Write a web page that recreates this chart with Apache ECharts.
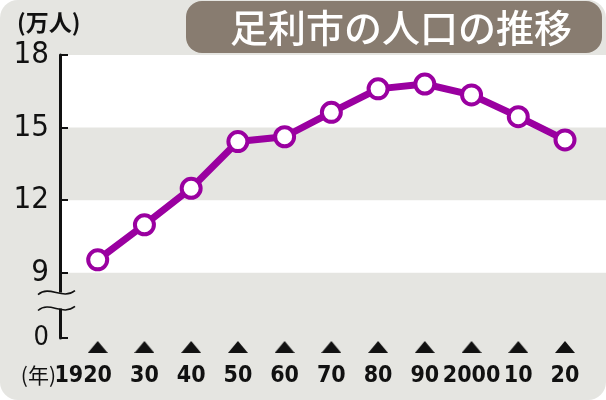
<!DOCTYPE html>
<html>
<head>
<meta charset="utf-8">
<script src="https://cdn.jsdelivr.net/npm/echarts@6/dist/echarts.min.js"></script>
<style>
  html, body { margin: 0; padding: 0; background: #ffffff; }
  #chart { width: 606px; height: 400px; background: #e5e5e1; border-radius: 18px; }
</style>
</head>
<body>
<div id="chart"></div>
<script>
// ---- data ----
const years = ['1920', '1930', '1940', '1950', '1960', '1970', '1980', '1990', '2000', '2010', '2020'];
const population = [9.53, 10.98, 12.49, 14.42, 14.62, 15.63, 16.60, 16.80, 16.35, 15.45, 14.49]; // 万人
const yearLabels = ['1920', '30', '40', '50', '60', '70', '80', '90', '2000', '10', '20'];
const yTickValues = [9, 12, 15, 18];
const yZeroLabel = '0';
const titleText = '足利市の人口の推移';
const yUnitText = '(万人)';
const xUnitText = '(年)';

// axis layout (0 sits at the bottom of a broken axis)
const yMin = 6.3, yMax = 18;
const breakUpper = 8.18, breakLower = 7.52;
const whiteBands = [[9, 12], [15, 18]];

const purple = '#9a00a0';
const numFont = '"DejaVu Sans Condensed", "Liberation Sans Narrow", sans-serif';

// triangle image for the tick markers
const tri = document.createElement('canvas');
tri.width = 20; tri.height = 12;
(function () {
  const c = tri.getContext('2d');
  c.fillStyle = '#111';
  c.beginPath(); c.moveTo(10, 0); c.lineTo(20, 12); c.lineTo(0, 12); c.closePath(); c.fill();
})();

const chart = echarts.init(document.getElementById('chart'), null, { renderer: 'canvas' });

const option = {
  animation: false,
  backgroundColor: 'transparent',
  grid: [
    { left: 60, right: 0, top: 55, bottom: 62, outerBoundsMode: 'none' },
    { left: 97.7, right: 41, top: 55, bottom: 62, outerBoundsMode: 'none' }
  ],
  xAxis: [
    { gridIndex: 0, type: 'value', min: 0, max: 1, show: false },
    {
      gridIndex: 1,
      type: 'category',
      data: years,
      boundaryGap: false,
      axisLine: { show: false },
      axisTick: { show: false },
      splitLine: { show: false },
      axisLabel: {
        interval: 0,
        margin: 2,
        formatter: function (v, i) {
          const key = i === 0 ? 'nf' : 'n';
          return '{t| }\n{' + key + '|' + yearLabels[i] + '}';
        },
        rich: {
          t: { width: 20, height: 12, lineHeight: 14, backgroundColor: { image: tri } },
          n: { fontFamily: numFont, fontWeight: 'bold', fontSize: 23, lineHeight: 44, color: '#111' },
          nf: { fontFamily: numFont, fontWeight: 'bold', fontSize: 23, lineHeight: 44, color: '#111', padding: [0, 29, 0, 0] }
        }
      }
    }
  ],
  yAxis: [
    {
      gridIndex: 0,
      type: 'value',
      min: yMin,
      max: yMax,
      z: 6,
      splitLine: { show: false },
      axisLine: { show: true, lineStyle: { color: '#111', width: 3 } },
      axisTick: {
        show: true, inside: true, length: 8,
        customValues: [yMin].concat(yTickValues),
        lineStyle: { color: '#111', width: 2 }
      },
      axisLabel: {
        customValues: [yMin].concat(yTickValues),
        margin: 11,
        color: '#111',
        fontFamily: numFont,
        fontSize: 31,
        formatter: function (v) { return v < 8 ? '{z|' + yZeroLabel + '}' : String(v); },
        rich: { z: { fontFamily: numFont, fontSize: 27, color: '#111' } }
      }
    },
    { gridIndex: 1, type: 'value', min: yMin, max: yMax, show: false }
  ],
  series: [
    {
      type: 'line',
      xAxisIndex: 0, yAxisIndex: 0,
      data: [],
      silent: true,
      markArea: {
        silent: true,
        itemStyle: { color: '#ffffff' },
        data: whiteBands.map(b => [{ yAxis: b[0] }, { yAxis: b[1] }])
      }
    },
    {
      type: 'line',
      xAxisIndex: 1, yAxisIndex: 1,
      data: population,
      lineStyle: { color: purple, width: 7 },
      symbol: 'circle',
      symbolSize: 19,
      itemStyle: { color: '#ffffff', borderColor: purple, borderWidth: 4 },
      z: 5
    }
  ],
  graphic: [
    {
      type: 'rect', id: 'titleBox',
      shape: { x: 186, y: 1, width: 416, height: 52, r: 16 },
      style: { fill: '#887c70' }
    },
    {
      type: 'text', id: 'title',
      style: {
        x: 401, y: 28, text: titleText, align: 'center', verticalAlign: 'middle',
        fill: '#ffffff', font: '500 38px "Noto Sans CJK JP", sans-serif'
      }
    },
    {
      type: 'text', id: 'yUnit',
      style: {
        x: 17, y: 22, text: yUnitText, align: 'left', verticalAlign: 'middle',
        fill: '#111', font: 'bold 23px "Noto Sans CJK JP", sans-serif'
      }
    },
    {
      type: 'text', id: 'xUnit',
      style: {
        x: 56, y: 375, text: xUnitText, align: 'right', verticalAlign: 'middle',
        fill: '#111', font: '21px "Noto Sans CJK JP", sans-serif'
      }
    }
  ]
};

chart.setOption(option);

// axis break decoration, positioned through the y scale
const ax = chart.convertToPixel({ xAxisIndex: 0 }, 0);
const yu = chart.convertToPixel({ yAxisIndex: 0 }, breakUpper);
const yl = chart.convertToPixel({ yAxisIndex: 0 }, breakLower);
function squiggle(id, cx, cy) {
  return {
    type: 'bezierCurve', id: id, z: 11,
    shape: {
      x1: cx - 22, y1: cy + 2,
      cpx1: cx - 10, cpy1: cy - 8,
      cpx2: cx + 2, cpy2: cy + 8,
      x2: cx + 15, y2: cy - 2
    },
    style: { stroke: '#111', lineWidth: 1.6, fill: null }
  };
}
chart.setOption({
  graphic: [
    { type: 'rect', id: 'gapCover', z: 10, shape: { x: ax - 5, y: yu, width: 10, height: yl - yu }, style: { fill: '#e5e5e1' } },
    squiggle('sq1', ax, yu),
    squiggle('sq2', ax, yl)
  ]
});
</script>
</body>
</html>
